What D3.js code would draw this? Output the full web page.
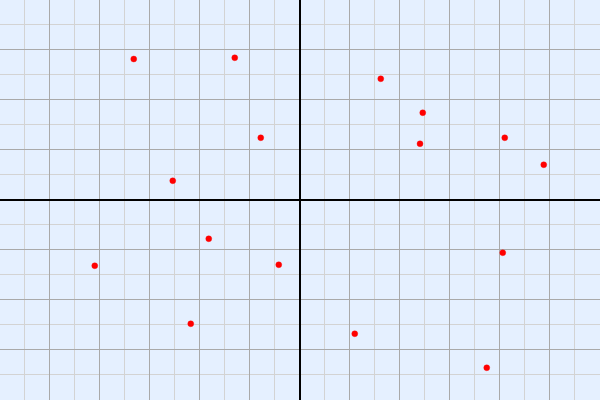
<!DOCTYPE html>
<html><head><meta charset="utf-8">
<script src="https://cdn.jsdelivr.net/npm/d3@7"></script>
<style>html,body{margin:0;padding:0;background:#e5f0ff;}svg{display:block;}</style>
</head><body>
<script>
const xValues = [-6.65,-2.61,-1.57,-5.09,3.23,4.91,4.80,8.19,9.75,-3.65,-8.21,-0.85,-4.37,8.11,2.19,7.47];
const yValues = [5.64,5.69,2.49,0.77,4.85,3.49,2.25,2.49,1.41,-1.55,-2.63,-2.59,-4.95,-2.11,-5.35,-6.71];
const xDomain = [-12, 12];
const yDomain = [-8, 8];

const W = 600, H = 400;
const svg = d3.select("body").append("svg").attr("width", W).attr("height", H);
const x = d3.scaleLinear().domain(xDomain).range([0, W]);
const y = d3.scaleLinear().domain(yDomain).range([H, 0]);

svg.append("rect").attr("width", W).attr("height", H).attr("fill", "#e5f0ff");

const xt = d3.range(xDomain[0] + 1, xDomain[1], 1).filter(v => v !== 0);
const yt = d3.range(yDomain[0] + 1, yDomain[1], 1).filter(v => v !== 0);
const g = svg.append("g").attr("shape-rendering", "crispEdges");
// minor first, then major
[false, true].forEach(major => {
  g.selectAll(null).data(xt.filter(v => (Math.abs(v) % 2 === 0) === major)).enter().append("line")
    .attr("x1", d => x(d) - 0.5).attr("x2", d => x(d) - 0.5).attr("y1", 0).attr("y2", H)
    .attr("stroke", major ? "#a9a9a9" : "#d3d3d3").attr("stroke-width", 1);
  g.selectAll(null).data(yt.filter(v => (Math.abs(v) % 2 === 0) === major)).enter().append("line")
    .attr("y1", d => y(d) - 0.5).attr("y2", d => y(d) - 0.5).attr("x1", 0).attr("x2", W)
    .attr("stroke", major ? "#a9a9a9" : "#d3d3d3").attr("stroke-width", 1);
});
// axes
g.append("line").attr("x1", x(0)).attr("x2", x(0)).attr("y1", 0).attr("y2", H).attr("stroke", "#000").attr("stroke-width", 2);
g.append("line").attr("y1", y(0)).attr("y2", y(0)).attr("x1", 0).attr("x2", W).attr("stroke", "#000").attr("stroke-width", 2);

svg.selectAll("circle").data(xValues.map((v, i) => [v, yValues[i]])).enter().append("circle")
  .attr("cx", d => x(d[0])).attr("cy", d => y(d[1])).attr("r", 3).attr("fill", "#ff0000")
  .attr("stroke", "rgba(255,0,0,0.35)").attr("stroke-width", 1);
</script>
</body></html>
